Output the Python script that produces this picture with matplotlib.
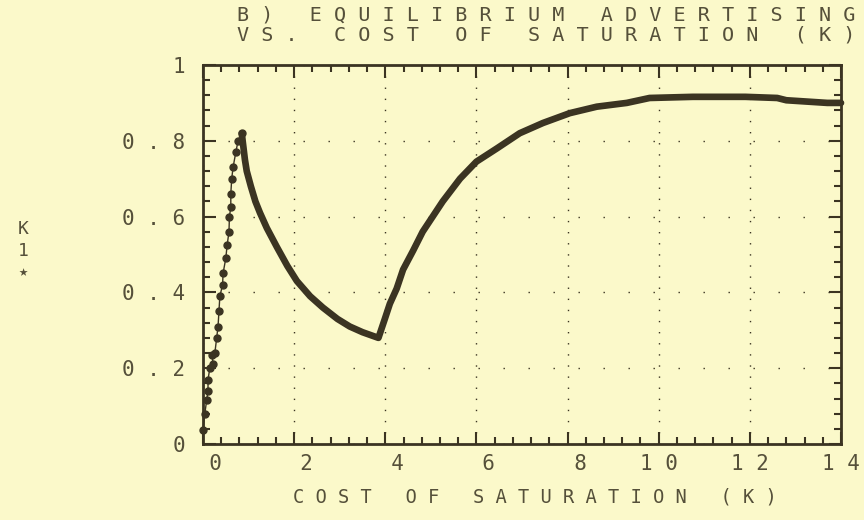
import numpy as np
from matplotlib import pyplot as plt
from matplotlib.ticker import MultipleLocator, FixedLocator

# dotted branch: low cost of saturation, advertising rises steeply
rise_k = [0.0, 0.04, 0.08, 0.11, 0.11, 0.15, 0.20, 0.22, 0.26, 0.30, 0.33, 0.35, 0.37,
          0.43, 0.44, 0.50, 0.53, 0.57, 0.58, 0.61, 0.61, 0.63, 0.66, 0.72, 0.77, 0.85]
rise_a = [0.037, 0.08, 0.115, 0.14, 0.17, 0.20, 0.235, 0.21, 0.24, 0.28, 0.31, 0.35, 0.39,
          0.42, 0.45, 0.49, 0.525, 0.56, 0.60, 0.625, 0.66, 0.70, 0.73, 0.77, 0.80, 0.82]
rise_k, rise_a = zip(*sorted(zip(rise_k, rise_a), key=lambda p: p[1]))

# solid branch: falls to a minimum then climbs to a plateau
main_k = [0.85, 0.88, 0.92, 0.96, 1.05, 1.15, 1.25, 1.40, 1.62, 1.85, 2.06, 2.35, 2.63,
          2.95, 3.22, 3.50, 3.85, 3.99, 4.10, 4.25, 4.39, 4.61, 4.82, 5.04, 5.26, 5.64,
          6.00, 6.45, 6.95, 7.46, 8.05, 8.64, 9.30, 9.80, 10.75, 11.90, 12.60, 12.80,
          13.70, 14.00]
main_a = [0.82, 0.79, 0.75, 0.72, 0.68, 0.64, 0.61, 0.57, 0.52, 0.47, 0.43, 0.39, 0.36,
          0.33, 0.31, 0.295, 0.28, 0.33, 0.37, 0.41, 0.46, 0.51, 0.56, 0.60, 0.64, 0.70,
          0.745, 0.78, 0.82, 0.847, 0.873, 0.89, 0.90, 0.913, 0.916, 0.916, 0.913, 0.907,
          0.90, 0.90]

xticks = [0, 2, 4, 6, 8, 10, 12, 14]
xlabels = ["  0", "  2", "  4", "  6", "  8", "1 0", "1 2", "1 4"]
yticks = [0, 0.2, 0.4, 0.6, 0.8, 1.0]
ylabels = ["0", "0 . 2", "0 . 4", "0 . 6", "0 . 8", "1"]

paper = '#fbf9ca'
ink = '#3b3422'
txt = '#55503a'
mono = 'DejaVu Sans Mono'

def spaced(s):
    return " ".join(s)

fig = plt.figure(figsize=(8.64, 5.2), dpi=100, facecolor=paper)
ax = fig.add_axes([203 / 864, 1 - 444 / 520, 638 / 864, 379 / 520])
ax.set_facecolor(paper)

ax.plot(rise_k, rise_a, color=ink, lw=1.0, marker='o', ms=5, mec=ink, mfc=ink, clip_on=False, zorder=3)
ax.plot(main_k, main_a, color=ink, lw=4.8, solid_capstyle='round', solid_joinstyle='round',
        clip_on=False, zorder=3)

ax.set_xlim(0, 14)
ax.set_ylim(0, 1)

ax.xaxis.set_major_locator(FixedLocator(xticks))
ax.yaxis.set_major_locator(FixedLocator(yticks))
ax.xaxis.set_minor_locator(MultipleLocator(0.4))
ax.yaxis.set_minor_locator(MultipleLocator(0.04))
ax.set_xticklabels(xlabels, family=mono, fontsize=15, color=txt)
ax.set_yticklabels(ylabels, family=mono, fontsize=15, color=txt)

ax.tick_params(which='both', direction='in', top=True, right=True, color=ink, width=1.5)
ax.tick_params(which='major', length=9)
ax.tick_params(which='minor', length=5)
ax.tick_params(axis='x', which='major', pad=7)
ax.tick_params(axis='y', which='major', pad=13)

ax.grid(axis='x', which='major', color=ink, lw=1.0, linestyle=(0, (1, 7)))
ax.grid(axis='y', which='major', color=ink, lw=1.0, linestyle=(0, (1, 17)))

for sp in ax.spines.values():
    sp.set_color(ink)
    sp.set_linewidth(2)

fig.text(546 / 864, 1 - 15 / 520, spaced("B) EQUILIBRIUM ADVERTISING"), family=mono,
         fontsize=14.5, color=txt, ha='center', va='center')
fig.text(546 / 864, 1 - 35 / 520, spaced("VS. COST OF SATURATION (K)"), family=mono,
         fontsize=14.5, color=txt, ha='center', va='center')
fig.text(535 / 864, 1 - 497 / 520, spaced("COST OF SATURATION (K)"), family=mono,
         fontsize=13.5, color=txt, ha='center', va='center')

fig.text(23 / 864, 1 - 229 / 520, "K", family=mono, fontsize=13, color=txt, ha='center', va='center')
fig.text(23 / 864, 1 - 251 / 520, "1", family=mono, fontsize=13, color=txt, ha='center', va='center')
fig.text(23 / 864, 1 - 272 / 520, "★", family=mono, fontsize=11, color=txt, ha='center', va='center')

fig.savefig('out.png', dpi=100, facecolor=paper)
